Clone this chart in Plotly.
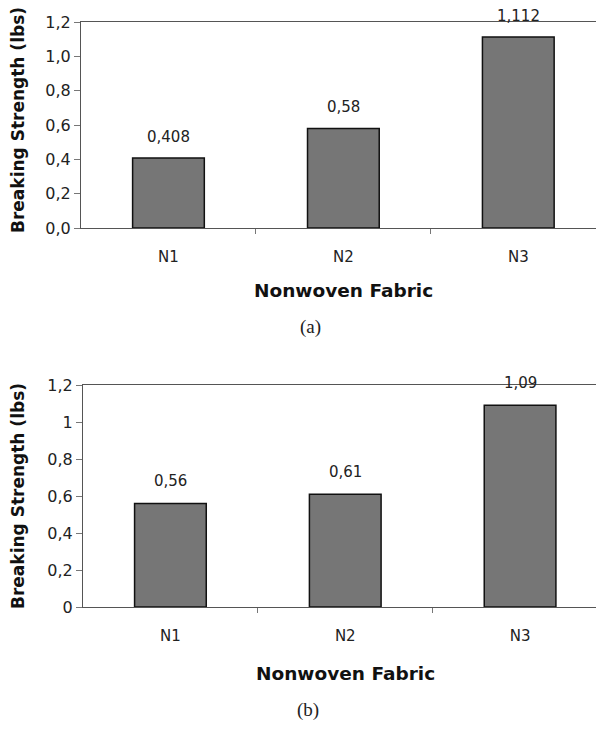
import plotly.graph_objects as go

categories = ["N1", "N2", "N3"]
values_a = [0.408, 0.58, 1.112]
values_b = [0.56, 0.61, 1.09]
labels_a = ["0,408", "0,58", "1,112"]
labels_b = ["0,56", "0,61", "1,09"]
yticks = [0, 0.2, 0.4, 0.6, 0.8, 1.0, 1.2]
yticklabels_a = ["0,0", "0,2", "0,4", "0,6", "0,8", "1,0", "1,2"]
yticklabels_b = ["0", "0,2", "0,4", "0,6", "0,8", "1", "1,2"]
x_title = "Nonwoven Fabric"
y_title = "Breaking Strength (lbs)"
captions = ["(a)", "(b)"]

# page has an 8px body margin; figure size fills the remaining window
OFF = 8
W, H = 596, 721


def px(x):
    return (x - OFF) / W


def py(y):
    return 1 - (y - OFF) / H


xpos = list(range(len(categories)))

fig = go.Figure()
bar_style = dict(marker=dict(color="#767676", line=dict(color="#111111", width=1.5)),
                 width=0.41, showlegend=False, hoverinfo="skip")
fig.add_trace(go.Bar(x=xpos, y=values_a, xaxis="x", yaxis="y", **bar_style))
fig.add_trace(go.Bar(x=xpos, y=values_b, xaxis="x2", yaxis="y2", **bar_style))

font = "DejaVu Sans, Arial, sans-serif"


def xax(domain, rng):
    return dict(domain=domain, range=rng, tickvals=xpos, ticktext=categories,
                ticks="", showline=True, linecolor="#555555", linewidth=1.2,
                mirror=True, showgrid=False, zeroline=False, fixedrange=True,
                automargin=False,
                tickfont=dict(family=font, size=15, color="#222"),
                ticklabelstandoff=15,
                minor=dict(tickvals=[0.5, 1.5], ticks="outside", ticklen=5,
                           tickcolor="#777", showgrid=False))


def yax(domain, anchor, ticktext):
    return dict(domain=domain, anchor=anchor, range=[0, 1.2], tickvals=yticks,
                ticktext=ticktext, ticks="outside", ticklen=6, tickcolor="#777",
                showline=True, linecolor="#555555", linewidth=1.2,
                showgrid=False, zeroline=False, fixedrange=True, automargin=False,
                tickfont=dict(family=font, size=16, color="#222"))


fig.update_layout(
    width=W, height=H,
    margin=dict(l=0, r=0, t=0, b=0, autoexpand=False),
    paper_bgcolor="white", plot_bgcolor="white",
    xaxis=dict(anchor="y", **xax([px(81), 1.0], [-0.5, 2.49])),
    yaxis=yax([py(228), py(22)], "x", yticklabels_a),
    xaxis2=dict(anchor="y2", **xax([px(83), 1.0], [-0.5, 2.48])),
    yaxis2=yax([py(607), py(385)], "x2", yticklabels_b),
)

anns = []
for i, (v, t) in enumerate(zip(values_a, labels_a)):
    anns.append(dict(x=i, y=v, xref="x", yref="y", text=t, showarrow=False,
                     xanchor="center", yanchor="middle",
                     yshift=21, font=dict(family=font, size=15, color="#222")))
for i, (v, t) in enumerate(zip(values_b, labels_b)):
    anns.append(dict(x=i, y=v, xref="x2", yref="y2", text=t, showarrow=False,
                     xanchor="center", yanchor="middle",
                     yshift=22, font=dict(family=font, size=15, color="#222")))

for yc, xc_title, ty in [(120, 343, 290), (496, 345, 673)]:
    anns.append(dict(x=px(18), y=py(yc), xref="paper", yref="paper",
                     xanchor="center", yanchor="middle",
                     text="<b>" + y_title + "</b>", textangle=-90, showarrow=False,
                     font=dict(family=font, size=17, color="#111")))
    anns.append(dict(x=px(xc_title), y=py(ty), xref="paper", yref="paper",
                     xanchor="center", yanchor="middle",
                     text="<b>" + x_title + "</b>", showarrow=False,
                     font=dict(family=font, size=18.5, color="#111")))

for cap, cx, cy in zip(captions, [310, 308], [327, 710]):
    anns.append(dict(x=px(cx), y=py(cy), xref="paper", yref="paper",
                     xanchor="center", yanchor="middle",
                     text=cap, showarrow=False,
                     font=dict(family="Liberation Serif, Times New Roman, serif", size=19, color="#222")))

fig.update_layout(annotations=anns)
fig.write_html("out.html")
